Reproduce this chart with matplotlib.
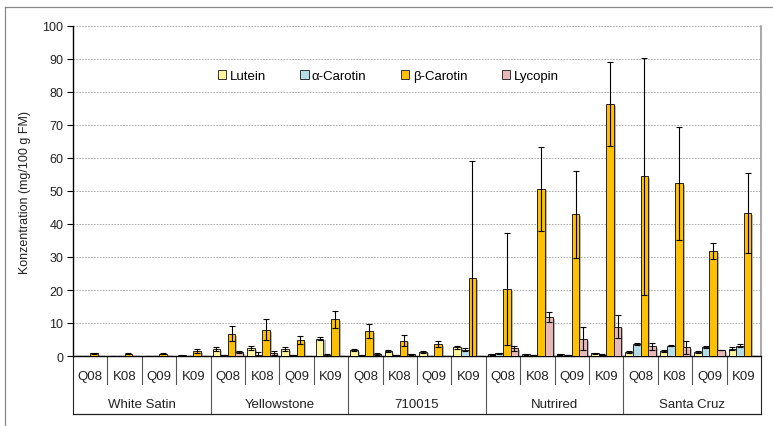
import matplotlib
matplotlib.use("Agg")
import matplotlib.pyplot as plt
import matplotlib.patheffects as pe
from matplotlib.patches import Patch
import numpy as np

plt.rcParams['font.family'] = ['Liberation Sans', 'DejaVu Sans']

groups = ["White Satin", "Yellowstone", "710015", "Nutrired", "Santa Cruz"]
subcats = ["Q08", "K08", "Q09", "K09"]
series = ["Lutein", "α-Carotin", "β-Carotin", "Lycopin"]
colors = ["#FFF59E", "#B5DDE8", "#FFC000", "#E8B7B7"]

lutein = [0.1, 0.1, 0.1, 0.2,
          2.1, 2.4, 2.1, 5.3,
          1.8, 1.5, 1.3, 2.6,
          0.5, 0.5, 0.5, 0.8,
          1.2, 1.6, 1.2, 2.2]
lutein_err = [0.0, 0.0, 0.0, 0.1,
              0.5, 0.6, 0.5, 0.5,
              0.4, 0.4, 0.3, 0.5,
              0.1, 0.1, 0.1, 0.2,
              0.2, 0.3, 0.4, 0.5]
alpha = [0.0, 0.0, 0.0, 0.1,
         0.3, 0.3, 0.3, 0.4,
         0.2, 0.3, 0.1, 1.9,
         0.8, 0.2, 0.2, 0.4,
         3.6, 3.1, 2.7, 3.1]
alpha_err = [0.0, 0.0, 0.0, 0.0,
             0.1, 0.8, 0.1, 0.3,
             0.1, 0.1, 0.0, 0.4,
             0.1, 0.0, 0.0, 0.1,
             0.3, 0.2, 0.3, 0.5]
beta = [0.8, 0.7, 0.7, 1.5,
        6.7, 7.9, 4.8, 11.1,
        7.6, 4.6, 3.6, 23.6,
        20.2, 50.7, 42.9, 76.3,
        54.4, 52.3, 31.8, 43.3]
beta_err = [0.1, 0.1, 0.1, 0.5,
            2.3, 3.2, 1.2, 2.5,
            2.0, 1.7, 0.8, 35.6,
            17.0, 12.7, 13.1, 12.7,
            35.9, 17.0, 2.4, 12.2]
lyco = [0.0, 0.0, 0.0, 0.0,
        1.2, 0.9, 0.1, 0.1,
        0.5, 0.5, 0.1, 0.1,
        2.3, 11.7, 5.2, 8.9,
        2.9, 2.6, 1.8, 0.1]
lyco_err = [0.0, 0.0, 0.0, 0.0,
            0.3, 0.6, 0.0, 0.0,
            0.3, 0.1, 0.0, 0.0,
            0.8, 1.5, 3.5, 3.5,
            1.0, 2.0, 0.0, 0.0]

values = [lutein, alpha, beta, lyco]
errors = [lutein_err, alpha_err, beta_err, lyco_err]

W, H = 773, 427
fig = plt.figure(figsize=(W / 100, H / 100), dpi=100)
ax = fig.add_axes([73 / W, 1 - 357 / H, (761 - 73) / W, (357 - 27) / H])

n = len(groups) * len(subcats)
x = np.arange(n)
w = 0.22
shadow = [pe.SimplePatchShadow(offset=(1.5, -1.2), shadow_rgbFace='#888888', alpha=0.6), pe.Normal()]
for i, (vals, errs, col) in enumerate(zip(values, errors, colors)):
    pos = x + (i - 1.5) * w
    bars = ax.bar(pos, vals, width=w, color=col, edgecolor='#222222', linewidth=0.7, zorder=3)
    for b in bars:
        b.set_path_effects(shadow)
    ax.errorbar(pos, vals, yerr=errs, fmt='none', ecolor='black', elinewidth=0.8,
                capsize=2.2, capthick=0.8, zorder=4)

ax.set_xlim(-0.5, n - 0.5)
ax.set_ylim(0, 100)
ax.set_yticks(np.arange(0, 101, 10))
ax.tick_params(axis='y', labelsize=9, length=4, width=0.8, direction='out', pad=3, labelcolor='#222222')
ax.set_xticks([])
ax.yaxis.grid(True, linestyle=(0, (2, 1.5)), color='#a0a0a0', linewidth=0.6, zorder=0)
ax.set_axisbelow(True)
ax.spines['top'].set_visible(False)
ax.spines['right'].set_color('#999999')
ax.spines['right'].set_linewidth(1.2)
ax.spines['left'].set_linewidth(1.0)
ax.spines['bottom'].set_linewidth(1.0)
ax.set_ylabel("Konzentration (mg/100 g FM)", fontsize=9, labelpad=8, color='#222222')

# multi-level category axis
trans = ax.get_xaxis_transform()
row1_y = -(377 - 357) / 330
row1_line = -(385 - 357) / 330
row2_y = -(405 - 357) / 330
bottom_y = -(415 - 357) / 330
for k in range(n):
    ax.text(k, row1_y, subcats[k % 4], transform=trans, ha='center', va='center', fontsize=9.5, color='#222222')
for k in range(1, n):
    if k % 4 == 0:
        continue
    ax.plot([k - 0.5, k - 0.5], [0, row1_line], transform=trans, color='#555555', lw=0.8, clip_on=False)
for g in range(len(groups) + 1):
    xx = g * 4 - 0.5
    ax.plot([xx, xx], [0, bottom_y], transform=trans, color='#555555' if 0 < g < len(groups) else '#222222',
            lw=0.8, clip_on=False)
for g, name in enumerate(groups):
    ax.text(g * 4 + 1.5, row2_y, name, transform=trans, ha='center', va='center', fontsize=9.5, color='#222222')
ax.plot([-0.5, n - 0.5], [bottom_y, bottom_y], transform=trans, color='#222222', lw=0.9, clip_on=False)

# legend
handles = [Patch(facecolor=c, edgecolor='#333333', linewidth=0.7) for c in colors]
leg = ax.legend(handles, series, loc='center', bbox_to_anchor=((388 - 73) / 688, (357 - 77) / 330),
                ncol=4, frameon=False, fontsize=9.5, handlelength=0.65, handleheight=0.65,
                handletextpad=0.25, columnspacing=2.6)

# outer chart border
fig.add_artist(plt.Line2D([5 / W, 5 / W], [0, 1 - 8 / H], transform=fig.transFigure, color='#888888', lw=0.9))
fig.add_artist(plt.Line2D([5 / W, 1], [1 - 8 / H, 1 - 8 / H], transform=fig.transFigure, color='#888888', lw=0.9))

fig.savefig("out.png", dpi=100)
